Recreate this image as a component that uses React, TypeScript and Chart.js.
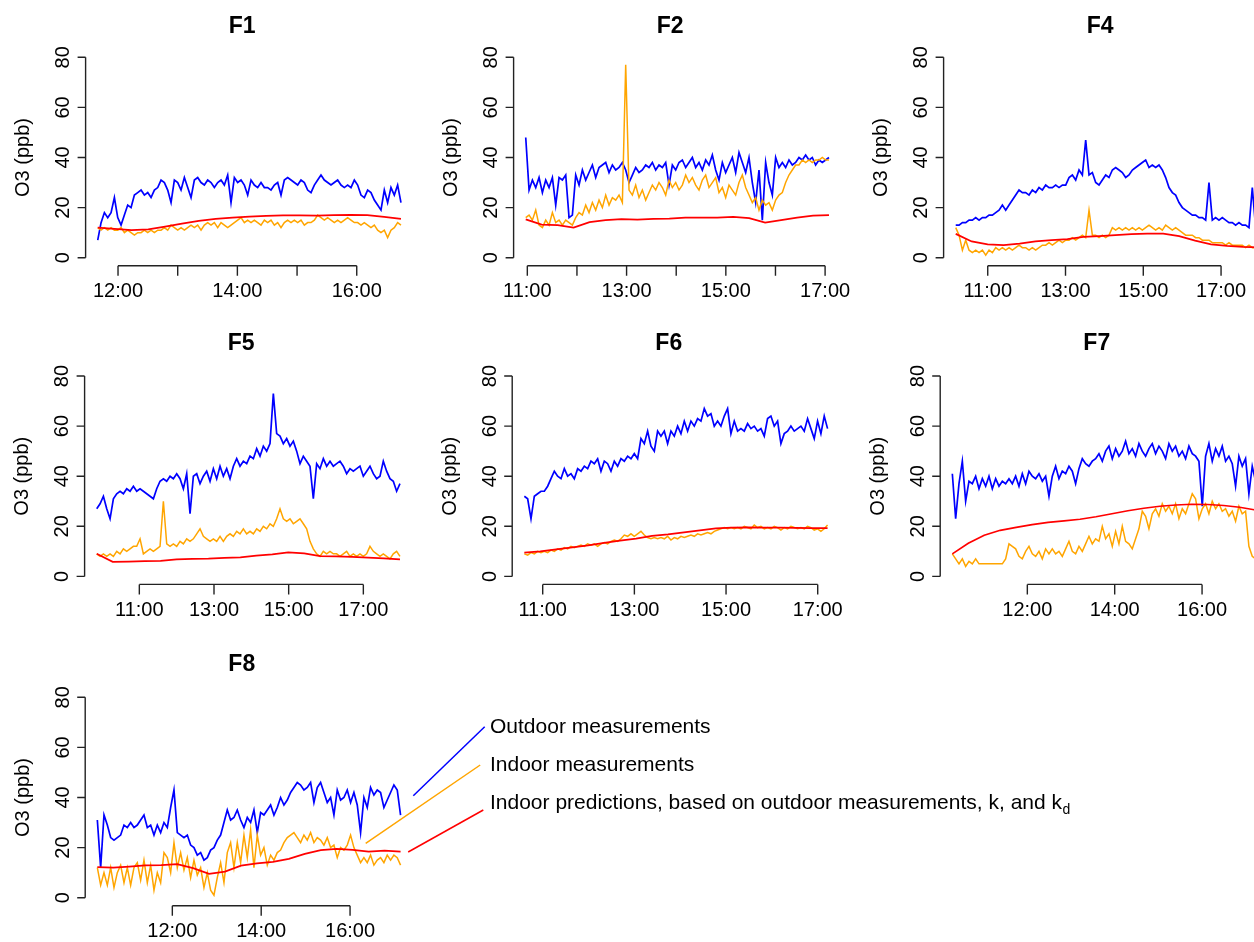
import React, { useEffect, useRef } from "react";
import { Chart, registerables } from "chart.js";

Chart.register(...registerables);

// ---------------- data (ppb, evenly spaced in time over each panel's range) ----------------
const yTicks = [0, 20, 40, 60, 80];

const f1Range = [11.66, 16.741];
const f1Ticks = [12, 13, 14, 15, 16];
const f1TickLabels = ["12:00", "", "14:00", "", "16:00"];
const f1Outdoor = [7,14,18,16,18,24,16,13,17,21, 20,25,26,27,25,26,24,27,28,31, 30,27,22,31,30,27,32,28,24,31, 32,30,29,31,30,28,30,31,29,33, 22,32,30,31,29,25,31,29,28,30, 28,28,27,29,30,25,31,32,31,30, 29,31,30,27,26,29,31,33,31,30, 29,30,31,29,28,29,28,31,29,25, 24,27,26,23,21,19,27,22,28,25, 29,22];
const f1Indoor = [12,11,12,11,12,11,11,12,10,11, 10,9,10,10,11,10,11,10,11,11, 12,11,13,12,11,12,11,12,13,12, 13,11,13,14,13,14,12,14,13,12, 13,14,15,16,14,15,14,15,14,13, 15,14,15,13,14,12,14,15,14,15, 14,15,13,14,14,15,17,16,15,16, 15,14,15,14,15,16,15,14,14,13, 14,13,12,13,11,10,11,8,11,12, 14,13];
const f1Pred = [12.0,11.5,11.0,11.3,12.4,13.6,14.7,15.5,16.0,16.4,16.7,16.9,16.9,16.8,17.0,17.1,17.0,16.3,15.5];

const f2Range = [10.968, 17.078];
const f2Ticks = [11, 12, 13, 14, 15, 16, 17];
const f2TickLabels = ["11:00", "", "13:00", "", "15:00", "", "17:00"];
const f2Outdoor = [48,27,31,28,32,26,31,28,32,21, 32,31,33,16,17,33,29,35,31,34, 37,32,36,37,38,34,37,35,36,38, 35,30,33,36,34,35,37,36,38,35, 37,36,38,29,37,35,38,39,36,38, 40,36,38,35,39,37,41,35,31,38, 34,37,40,34,42,38,34,40,30,22, 35,15,38,30,25,40,36,38,36,39, 37,38,40,39,41,39,40,37,39,38, 39,40];
const f2Indoor = [16,17,15,19,13,12,15,13,18,14, 15,13,15,14,13,16,18,17,21,18, 22,19,23,20,25,21,24,23,25,22, 77,27,25,29,24,27,23,26,29,27, 30,28,25,31,28,30,27,29,33,30, 32,29,27,31,33,28,30,32,26,28, 24,29,27,25,30,33,28,25,22,24, 19,23,21,22,19,23,25,26,30,33, 35,37,37,39,38,39,38,39,39,40, 39,39];
const f2Pred = [15.3,13.2,13.0,12.0,14.2,15.0,15.4,15.2,15.5,15.6,16.0,16.0,16.0,16.3,15.8,14.0,15.0,16.0,16.8,17.0];

const f4Range = [10.177, 17.975];
const f4Ticks = [11, 13, 15, 17];
const f4TickLabels = ["11:00", "13:00", "15:00", "17:00"];
const f4Outdoor = [13,13,14,14,15,15,16,15,16,16, 17,17,18,19,21,19,21,23,25,27, 26,26,25,27,26,28,27,29,28,28, 29,28,29,29,32,33,31,35,33,47, 33,34,30,29,31,33,32,35,36,35, 34,32,33,35,36,37,38,39,36,37, 36,37,35,32,28,26,25,22,20,19, 18,17,17,16,16,15,30,15,16,15, 16,15,14,14,13,14,13,13,12,28, 12,12];
const f4Indoor = [12,9,3,7,3,2,3,2,3,1, 3,2,4,3,4,3,4,3,4,5, 4,4,3,4,3,4,5,5,6,5, 6,7,6,7,7,8,7,8,9,8, 19,9,9,8,9,8,9,12,11,12, 11,12,11,12,11,12,11,12,13,12, 11,12,11,13,12,11,12,11,10,9, 9,9,8,8,7,7,7,6,6,6, 6,5,6,5,5,5,5,4,5,4, 4,4];
const f4Pred = [9.5,6.5,5.3,5.0,5.6,6.5,7.0,7.4,8.3,8.6,9.0,9.4,9.6,9.6,8.6,6.8,5.3,4.7,4.3,4.1];

const f5Range = [9.859, 17.981];
const f5Ticks = [11, 13, 15, 17];
const f5TickLabels = ["11:00", "13:00", "15:00", "17:00"];
const f5Outdoor = [27,29,32,27,23,31,33,34,33,35, 34,36,34,35,34,33,32,31,35,38, 39,38,40,39,41,39,35,41,25,40, 41,37,40,42,38,43,39,44,40,43, 39,44,47,44,46,45,48,47,51,48, 52,50,53,73,57,56,53,55,52,54, 50,45,48,46,44,31,45,43,47,44, 46,44,45,46,44,41,43,42,43,44, 40,42,44,41,39,40,46,42,39,38, 34,37];
const f5Indoor = [9,8,9,8,9,8,10,9,11,10, 11,12,12,15,9,10,11,10,11,12, 30,13,12,13,12,14,13,15,14,15, 17,19,16,15,14,15,14,16,14,16, 17,16,18,17,19,17,18,17,19,18, 20,19,21,20,23,27,23,22,23,21, 22,23,21,19,14,11,9,8,10,9, 10,9,9,8,9,10,8,9,8,9, 8,9,12,10,9,8,9,8,7,9, 10,8];
const f5Pred = [9.0,5.8,5.9,6.1,6.2,6.8,7.0,7.1,7.4,7.6,8.3,8.8,9.6,9.2,8.1,8.0,7.8,7.5,7.2,6.8];

const f6Range = [10.599, 17.215];
const f6Ticks = [11, 13, 15, 17];
const f6TickLabels = ["11:00", "13:00", "15:00", "17:00"];
const f6Outdoor = [32,31,23,32,33,34,34,36,39,42, 40,39,43,40,41,39,43,42,44,43, 46,45,47,42,46,45,42,46,44,47, 46,48,47,49,47,55,53,58,52,50, 58,56,58,53,58,56,60,57,62,58, 62,60,63,62,67,64,65,60,62,60, 64,67,57,62,58,59,58,61,59,60, 58,59,56,63,64,60,62,53,57,58, 60,58,59,60,58,63,59,55,62,57, 64,59];
const f6Indoor = [9,8.5,9.5,9,10,9.5,10,9.5,10.5,10, 11,10.5,11.5,11,12,11.5,12,12.5,12,13, 12.5,13,12,13,13.5,13,14,14.5,14,15, 16.5,16,17,16,17,18,16.5,15.5,15,15.5, 15,15.5,15,16,14.5,15.5,15,16,15.5,16, 16.5,16,17,16.5,17,17.5,17,18,18.5,19, 19.5,19,19.5,19,19.5,19,20,19.5,19,20.5, 19.5,20,19,19.5,19,20,19.5,18.5,19.5,19, 20,19.5,19,19.5,19,20,19.5,18.5,19,18, 19,20.5];
const f6Pred = [9.5,10,10.8,11.6,12.4,13.4,14.3,15.1,16.2,16.8,17.6,18.4,19.2,19.5,19.6,19.5,19.5,19.4,19.3,19.3];

const f7Range = [10.283, 17.225];
const f7Ticks = [12, 14, 16];
const f7TickLabels = ["12:00", "14:00", "16:00"];
const f7Outdoor = [41,23,37,46,30,38,37,40,35,39, 36,40,35,39,36,38,37,39,37,40, 36,41,37,42,40,39,41,38,40,32, 40,44,39,42,41,44,42,37,43,47, 45,44,46,47,49,46,50,52,47,51, 48,50,54,49,51,48,53,50,48,51, 53,49,52,50,47,53,50,52,48,50, 47,52,49,48,46,28,48,53,46,51, 48,52,46,48,45,36,48,44,47,33, 44,38];
const f7Indoor = [9,7,5,7,4,6,5,7,5,5, 5,5,5,5,5,5,7,13,12,11, 8,7,10,12,9,8,10,7,11,9, 11,9,10,8,11,14,10,9,12,10, 13,16,13,15,14,20,15,17,12,18, 13,20,14,13,11,15,19,26,24,19, 25,27,24,29,26,28,25,29,23,27, 25,29,33,31,23,27,29,25,30,27, 29,26,27,24,26,22,28,25,26,12, 8,7];
const f7Pred = [9,13.2,16.4,18.4,19.6,20.7,21.6,22.2,22.8,23.8,25,26.2,27.2,28,28.5,28.8,28.7,28.3,27.6,26.5];

const f8Range = [10.312, 17.137];
const f8Ticks = [12, 14, 16];
const f8TickLabels = ["12:00", "14:00", "16:00"];
const f8Outdoor = [31,12,33,29,24,23,24,25,29,28, 30,28,29,31,33,28,29,25,29,26, 30,28,36,43,26,25,24,25,21,20, 17,18,15,16,19,20,23,25,30,35, 31,32,35,31,28,32,30,35,26,34, 33,35,37,33,36,40,37,39,42,44, 46,45,43,44,46,38,44,46,42,38, 40,33,43,39,40,43,38,42,37,26, 40,36,44,41,43,42,36,39,42,45, 43,33];
const f8Indoor = [12,5,10,5,12,4,10,13,6,12, 5,12,14,7,15,6,13,3,10,6, 18,16,10,22,12,18,11,16,8,15, 9,12,4,10,3,1,8,14,6,18, 22,12,22,14,25,16,27,12,25,17, 20,13,17,15,18,19,22,24,25,26, 24,22,25,23,26,22,24,23,21,24, 20,21,16,20,19,21,25,20,17,14, 16,14,17,13,15,16,14,17,15,17, 16,13];
const f8Pred = [12.2,12,12.4,12.9,13,13.4,11.8,9.5,10.4,12.8,13.7,14.3,15.5,17.5,19,19.5,19.1,18.4,18.8,18.4];

const legendLabels = [
  "Outdoor measurements",
  "Indoor measurements",
  "Indoor predictions, based on outdoor measurements, k, and k",
];
const legendSubscripts = ["", "", "d"];

// ---------------- styles & layout ----------------
const BLUE = "#0000FF";
const ORANGE = "#FFA500";
const RED = "#FF0000";
const FONT = "'Liberation Sans', Arial, Helvetica, sans-serif";
const AXIS = "#222222";
const PLOT_W = 327.5;
const PLOT_H = 216.4;

const ROWS = [
  { plotTop: 49.3, canvasY: 0, canvasH: 310, titleY: 27 },
  { plotTop: 368, canvasY: 312, canvasH: 316, titleY: 344 },
  { plotTop: 689.3, canvasY: 630, canvasH: 312, titleY: 665 },
];

const PANELS = [
  { title: "F1", range: f1Range, ticks: f1Ticks, labels: f1TickLabels, outdoor: f1Outdoor, indoor: f1Indoor, pred: f1Pred, row: 0, plotLeft: 85.6, cx: 0, cw: 428 },
  { title: "F2", range: f2Range, ticks: f2Ticks, labels: f2TickLabels, outdoor: f2Outdoor, indoor: f2Indoor, pred: f2Pred, row: 0, plotLeft: 513.6, cx: 428, cw: 428 },
  { title: "F4", range: f4Range, ticks: f4Ticks, labels: f4TickLabels, outdoor: f4Outdoor, indoor: f4Indoor, pred: f4Pred, row: 0, plotLeft: 943.6, cx: 856, cw: 440 },
  { title: "F5", range: f5Range, ticks: f5Ticks, labels: f5TickLabels, outdoor: f5Outdoor, indoor: f5Indoor, pred: f5Pred, row: 1, plotLeft: 84.6, cx: 0, cw: 428 },
  { title: "F6", range: f6Range, ticks: f6Ticks, labels: f6TickLabels, outdoor: f6Outdoor, indoor: f6Indoor, pred: f6Pred, row: 1, plotLeft: 512.2, cx: 428, cw: 428 },
  { title: "F7", range: f7Range, ticks: f7Ticks, labels: f7TickLabels, outdoor: f7Outdoor, indoor: f7Indoor, pred: f7Pred, row: 1, plotLeft: 940.2, cx: 856, cw: 440 },
  { title: "F8", range: f8Range, ticks: f8Ticks, labels: f8TickLabels, outdoor: f8Outdoor, indoor: f8Indoor, pred: f8Pred, row: 2, plotLeft: 85.2, cx: 0, cw: 1254, legend: true },
];

const LEGEND_LINES = [
  [413.3, 795.7, 484.7, 726.7],
  [365.7, 843.3, 480.2, 765],
  [408.2, 852, 483.3, 810],
];
const LEGEND_COLORS = [BLUE, ORANGE, RED];
const LEGEND_TEXT_X = 490;
const LEGEND_TEXT_Y = [727, 765, 803];

const toPoints = (vals: number[], r: number[]) =>
  vals.map((v, i) => ({ x: r[0] + ((r[1] - r[0]) * i) / (vals.length - 1), y: v }));

function makePlugin(p: any) {
  const row = ROWS[p.row];
  return {
    id: "rStyle",
    afterDraw(chart: any) {
      const { ctx, chartArea: ca, scales } = chart;
      const xs = scales.x;
      const ys = scales.y;
      ctx.save();
      ctx.strokeStyle = AXIS;
      ctx.lineWidth = 1.4;
      ctx.beginPath();
      // y axis
      ctx.moveTo(ca.left, ys.getPixelForValue(yTicks[0]));
      ctx.lineTo(ca.left, ys.getPixelForValue(yTicks[yTicks.length - 1]));
      yTicks.forEach((v) => {
        const py = ys.getPixelForValue(v);
        ctx.moveTo(ca.left, py);
        ctx.lineTo(ca.left - 8, py);
      });
      // x axis
      const xb = ca.bottom;
      ctx.moveTo(xs.getPixelForValue(p.ticks[0]), xb);
      ctx.lineTo(xs.getPixelForValue(p.ticks[p.ticks.length - 1]), xb);
      p.ticks.forEach((h: number) => {
        const px = xs.getPixelForValue(h);
        ctx.moveTo(px, xb);
        ctx.lineTo(px, xb + 10);
      });
      ctx.stroke();

      ctx.fillStyle = "#000";
      ctx.font = `20px ${FONT}`;
      ctx.textAlign = "center";
      ctx.textBaseline = "middle";
      yTicks.forEach((v) => {
        ctx.save();
        ctx.translate(ca.left - 22, ys.getPixelForValue(v));
        ctx.rotate(-Math.PI / 2);
        ctx.fillText(String(v), 0, 0);
        ctx.restore();
      });
      p.ticks.forEach((h: number, i: number) => {
        if (p.labels[i]) ctx.fillText(p.labels[i], xs.getPixelForValue(h), xb + 26);
      });
      ctx.save();
      ctx.translate(ca.left - 62, (ca.top + ca.bottom) / 2);
      ctx.rotate(-Math.PI / 2);
      ctx.fillText("O3 (ppb)", 0, 0);
      ctx.restore();

      ctx.font = `bold 23px ${FONT}`;
      ctx.fillText(p.title, (ca.left + ca.right) / 2 - 7.2, row.titleY - row.canvasY);

      if (p.legend) {
        const ox = p.cx;
        const oy = row.canvasY;
        ctx.lineWidth = 1.5;
        LEGEND_LINES.forEach((l, i) => {
          ctx.strokeStyle = LEGEND_COLORS[i];
          ctx.beginPath();
          ctx.moveTo(l[0] - ox, l[1] - oy);
          ctx.lineTo(l[2] - ox, l[3] - oy);
          ctx.stroke();
        });
        ctx.textAlign = "left";
        legendLabels.forEach((t, i) => {
          ctx.font = `21px ${FONT}`;
          const ty = LEGEND_TEXT_Y[i] - oy;
          ctx.fillText(t, LEGEND_TEXT_X - ox, ty);
          if (legendSubscripts[i]) {
            const w = ctx.measureText(t).width;
            ctx.font = `14px ${FONT}`;
            ctx.fillText(legendSubscripts[i], LEGEND_TEXT_X - ox + w + 0.5, ty + 7);
          }
        });
      }
      ctx.restore();
    },
  };
}

function Panel({ p }: { p: any }) {
  const ref = useRef<HTMLCanvasElement>(null);
  const row = ROWS[p.row];
  useEffect(() => {
    if (!ref.current) return;
    const span = p.range[1] - p.range[0];
    const padLeft = p.plotLeft - p.cx;
    const padTop = row.plotTop - row.canvasY;
    const padRight = p.cx + p.cw - (p.plotLeft + PLOT_W);
    const padBottom = row.canvasY + row.canvasH - (row.plotTop + PLOT_H);
    const common = { pointRadius: 0, borderWidth: 1.7, tension: 0, fill: false };
    const chart = new Chart(ref.current, {
      type: "line",
      data: {
        datasets: [
          { ...common, label: "pred", data: toPoints(p.pred, p.range), borderColor: RED, order: 0 },
          { ...common, label: "indoor", data: toPoints(p.indoor, p.range), borderColor: ORANGE, borderWidth: 1.5, order: 1 },
          { ...common, label: "outdoor", data: toPoints(p.outdoor, p.range), borderColor: BLUE, order: 2 },
        ],
      },
      options: {
        animation: false,
        responsive: false,
        events: [],
        layout: { padding: { left: padLeft, top: padTop, right: padRight, bottom: padBottom } },
        scales: {
          x: { type: "linear", display: false, min: p.range[0] - 0.04 * span, max: p.range[1] + 0.04 * span },
          y: { type: "linear", display: false, min: -3.2, max: 83.2 },
        },
        plugins: { legend: { display: false }, tooltip: { enabled: false } },
      },
      plugins: [makePlugin(p)],
    } as any);
    return () => chart.destroy();
  }, []);
  return (
    <canvas
      ref={ref}
      width={p.cw}
      height={row.canvasH}
      style={{ position: "absolute", left: p.cx, top: row.canvasY, width: p.cw, height: row.canvasH }}
    />
  );
}

export default function App() {
  return (
    <div style={{ position: "fixed", left: 0, top: 0, width: 1254, height: 942, overflow: "hidden", background: "#fff" }}>
      {PANELS.map((p) => (
        <Panel key={p.title} p={p} />
      ))}
    </div>
  );
}
